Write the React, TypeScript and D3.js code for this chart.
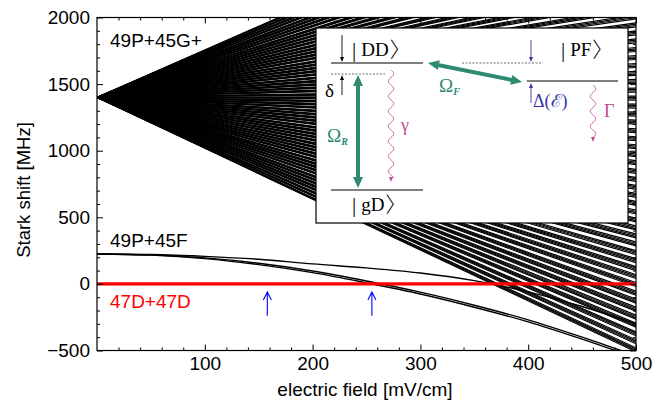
import React, { useRef, useEffect } from "react";
import * as d3 from "d3";

const W = 672;
const H = 403;

// axes
const fieldDomain = [0, 500];
const shiftDomain = [-500, 2000];
const fieldTicks = [100, 200, 300, 400, 500];
const shiftTicks = [-500, 0, 500, 1000, 1500, 2000];

// 49P+45G+ manifold: every band starts at 1400 MHz, value read at 500 mV/cm
const fanField = [0, 500];
const fanOrigin = 1400;
const fanEndShift = [
  -480, -420, -360, -295, -235, -175, -115, -55, 10, 70, 130, 190, 250, 315, 375,
  435, 495, 555, 620, 680, 740, 800, 860, 925, 985, 1045, 1105, 1165, 1230, 1290,
  1350, 1410, 1470, 1535, 1595, 1655, 1715, 1775, 1840, 1900, 1960, 2020, 2080,
  2145, 2205, 2265, 2325, 2385, 2450, 2510, 2570, 2630, 2690, 2755, 2815, 2875,
  2935, 3000, 3060, 3120, 3180,
];
// each band is a small bundle of near-degenerate lines (offset at 500 mV/cm)
const bandSplit = [0, -10, -20, -30];

// 49P+45F lines
const pfField = [0, 50, 100, 150, 200, 250, 300, 350, 400, 450, 500];
const pfUpper = [225, 221, 207, 185, 150, 120, 82, 25, -60, -170, -300];
const pfLowerA = [225, 218, 195, 155, 97, 22, -62, -160, -270, -400, -540];
const pfLowerB = [225, 216, 190, 145, 85, 8, -76, -175, -285, -415, -555];

// 47D+47D reference level and resonance markers
const ddShift = 0;
const arrowFields = [158, 255];
const arrowShift = [-240, -60];

const SANS = "'Liberation Sans', Arial, Helvetica, sans-serif";
const SERIF = "'Liberation Serif', 'DejaVu Serif', 'Times New Roman', serif";
const GREEN = "#2f8a72";
const PINK = "#bf4a92";
const INDIGO = "#3535a8";

function App() {
  const svgRef = useRef(null);

  useEffect(() => {
    const svg = d3.select(svgRef.current);
    svg.selectAll("*").remove();

    const x = d3.scaleLinear().domain(fieldDomain).range([97, 636]);
    const y = d3.scaleLinear().domain(shiftDomain).range([350.5, 17.5]);

    svg
      .append("defs")
      .append("clipPath")
      .attr("id", "plotArea")
      .append("rect")
      .attr("x", x(0))
      .attr("y", y(2000))
      .attr("width", x(500) - x(0))
      .attr("height", y(-500) - y(2000));

    const plot = svg.append("g").attr("clip-path", "url(#plotArea)");
    const line = d3
      .line<[number, number]>()
      .x((d) => x(d[0]))
      .y((d) => y(d[1]));

    // manifold fan
    const fanLines: [number, number][][] = [];
    fanEndShift.forEach((v) =>
      bandSplit.forEach((s) =>
        fanLines.push([
          [fanField[0], fanOrigin],
          [fanField[1], v + s],
        ])
      )
    );
    plot
      .selectAll(".fan")
      .data(fanLines)
      .join("path")
      .attr("class", "fan")
      .attr("d", (d) => line(d))
      .attr("fill", "none")
      .attr("stroke", "#000")
      .attr("stroke-width", 1.15);

    // 49P+45F
    [pfUpper, pfLowerA, pfLowerB].forEach((series) => {
      plot
        .append("path")
        .attr("d", line.curve(d3.curveMonotoneX)(pfField.map((f, i) => [f, series[i]])))
        .attr("fill", "none")
        .attr("stroke", "#000")
        .attr("stroke-width", 1.4);
    });
    line.curve(d3.curveLinear);

    // 47D+47D
    plot
      .append("line")
      .attr("x1", x(0))
      .attr("x2", x(500))
      .attr("y1", y(ddShift))
      .attr("y2", y(ddShift))
      .attr("stroke", "#ff0000")
      .attr("stroke-width", 3.4);

    // blue resonance arrows
    arrowFields.forEach((f) => {
      const ax = x(f);
      const y0 = y(arrowShift[0]);
      const y1 = y(arrowShift[1]);
      svg
        .append("path")
        .attr("d", `M${ax},${y0}L${ax},${y1}M${ax - 4},${y1 + 8}L${ax},${y1}L${ax + 4},${y1 + 8}`)
        .attr("fill", "none")
        .attr("stroke", "#0000ff")
        .attr("stroke-width", 1.1);
    });

    // axes with inward ticks on all four sides
    const minorField = d3.range(20, 500, 20).filter((v) => v % 100 !== 0);
    const minorShift = d3.range(-400, 2000, 100).filter((v) => v % 500 !== 0);
    const styleAxis = (g) => {
      g.select(".domain").remove();
      g.attr("font-family", SANS).attr("font-size", 19);
      g.selectAll("line").attr("stroke", "#000").attr("stroke-width", 1);
    };

    svg
      .append("g")
      .attr("transform", `translate(0,${y(-500)})`)
      .call(d3.axisBottom(x).tickValues(fieldTicks).tickSize(-6).tickPadding(6))
      .call(styleAxis);
    svg
      .append("g")
      .attr("transform", `translate(0,${y(-500)})`)
      .call(d3.axisBottom(x).tickValues(minorField).tickSize(-3).tickFormat(() => ""))
      .call(styleAxis);
    svg
      .append("g")
      .attr("transform", `translate(0,${y(2000)})`)
      .call(d3.axisTop(x).tickValues(fieldTicks).tickSize(-6).tickFormat(() => ""))
      .call(styleAxis);
    svg
      .append("g")
      .attr("transform", `translate(0,${y(2000)})`)
      .call(d3.axisTop(x).tickValues(minorField).tickSize(-3).tickFormat(() => ""))
      .call(styleAxis);
    svg
      .append("g")
      .attr("transform", `translate(${x(0)},0)`)
      .call(d3.axisLeft(y).tickValues(shiftTicks).tickSize(-6).tickPadding(7).tickFormat(d3.format("d")))
      .call(styleAxis);
    svg
      .append("g")
      .attr("transform", `translate(${x(0)},0)`)
      .call(d3.axisLeft(y).tickValues(minorShift).tickSize(-3).tickFormat(() => ""))
      .call(styleAxis);
    svg
      .append("g")
      .attr("transform", `translate(${x(500)},0)`)
      .call(d3.axisRight(y).tickValues(shiftTicks).tickSize(-6).tickFormat(() => ""))
      .call(styleAxis);
    svg
      .append("g")
      .attr("transform", `translate(${x(500)},0)`)
      .call(d3.axisRight(y).tickValues(minorShift).tickSize(-3).tickFormat(() => ""))
      .call(styleAxis);

    svg
      .append("rect")
      .attr("x", x(0))
      .attr("y", y(2000))
      .attr("width", x(500) - x(0))
      .attr("height", y(-500) - y(2000))
      .attr("fill", "none")
      .attr("stroke", "#000")
      .attr("stroke-width", 1.2);

    // axis titles
    svg
      .append("text")
      .attr("x", 365)
      .attr("y", 396)
      .attr("text-anchor", "middle")
      .attr("font-family", SANS)
      .attr("font-size", 19)
      .text("electric field [mV/cm]");
    svg
      .append("text")
      .attr("transform", "translate(30,190) rotate(-90)")
      .attr("text-anchor", "middle")
      .attr("font-family", SANS)
      .attr("font-size", 18.5)
      .text("Stark shift [MHz]");

    // state labels
    const label = (tx, ty, txt, color) =>
      svg
        .append("text")
        .attr("x", tx)
        .attr("y", ty)
        .attr("font-family", SANS)
        .attr("font-size", 19)
        .attr("fill", color)
        .text(txt);
    label(110, 47, "49P+45G+", "#000");
    label(110, 247, "49P+45F", "#000");
    label(110, 308, "47D+47D", "#ff0000");

    // ---- inset level scheme ----
    const inset = svg.append("g");
    inset
      .append("rect")
      .attr("x", 316)
      .attr("y", 28)
      .attr("width", 312)
      .attr("height", 195)
      .attr("fill", "#fff")
      .attr("stroke", "#000")
      .attr("stroke-width", 1.2);

    const seg = (x1, y1, x2, y2, color, w, dash?) =>
      inset
        .append("line")
        .attr("x1", x1)
        .attr("y1", y1)
        .attr("x2", x2)
        .attr("y2", y2)
        .attr("stroke", color)
        .attr("stroke-width", w)
        .attr("stroke-dasharray", dash || null);

    seg(331, 63, 423, 63, "#000", 1.2);
    seg(331, 190, 423, 190, "#000", 1.2);
    seg(527, 81, 618, 81, "#000", 1.2);
    seg(331, 74, 385, 74, "#444", 0.8, "2,1.5");
    seg(462, 63, 543, 63, "#444", 0.8, "2,1.5");

    const smallArrow = (ax, from, to, color) => {
      const dir = to > from ? 1 : -1;
      seg(ax, from, ax, to - dir * 3, color, 0.9);
      inset
        .append("path")
        .attr("d", `M${ax - 2},${to - dir * 5}L${ax},${to}L${ax + 2},${to - dir * 5}Z`)
        .attr("fill", color);
    };
    smallArrow(342, 35, 62, "#000");
    smallArrow(342, 95, 75, "#000");
    smallArrow(531, 40, 62, INDIGO);
    smallArrow(531, 103, 83, INDIGO);

    const doubleArrow = (x1, y1, x2, y2) => {
      const len = Math.hypot(x2 - x1, y2 - y1);
      const ux = (x2 - x1) / len;
      const uy = (y2 - y1) / len;
      const hl = 11;
      const hw = 5;
      seg(x1 + ux * hl * 0.8, y1 + uy * hl * 0.8, x2 - ux * hl * 0.8, y2 - uy * hl * 0.8, GREEN, 4);
      const head = (tx, ty, sx, sy) => {
        const bx = tx + sx * hl;
        const by = ty + sy * hl;
        inset
          .append("path")
          .attr("d", `M${tx},${ty}L${bx - sy * hw},${by + sx * hw}L${bx + sy * hw},${by - sx * hw}Z`)
          .attr("fill", GREEN);
      };
      head(x1, y1, ux, uy);
      head(x2, y2, -ux, -uy);
    };
    doubleArrow(358, 75, 358, 188);
    doubleArrow(428, 63, 522, 82);

    const wavy = (wx, y1, y2) => {
      const pts: [number, number][] = [];
      for (let t = y1; t <= y2 - 4; t += 0.5) pts.push([wx + 2.7 * Math.sin(((t - y1) / 15) * 2 * Math.PI), t]);
      inset
        .append("path")
        .attr("d", d3.line()(pts))
        .attr("fill", "none")
        .attr("stroke", PINK)
        .attr("stroke-width", 0.9);
      inset
        .append("path")
        .attr("d", `M${wx - 2},${y2 - 5}L${wx},${y2}L${wx + 2},${y2 - 5}Z`)
        .attr("fill", PINK);
    };
    wavy(391, 70, 182);
    wavy(593, 85, 142);

    // ket labels: bar, state name, tall thin closing bracket
    const ket = (tx, ty, name) => {
      const t = inset
        .append("text")
        .attr("x", tx)
        .attr("y", ty)
        .attr("font-family", SERIF)
        .attr("font-size", 19)
        .attr("fill", "#000");
      t.append("tspan").attr("font-size", 21).attr("dy", 1).text("|");
      t.append("tspan").attr("dx", 5).attr("dy", -1).text(name);
      t.append("tspan")
        .attr("dx", 1)
        .attr("dy", 1)
        .attr("font-size", 21)
        .attr("font-family", "'Noto Sans CJK JP', 'Noto Sans CJK SC', sans-serif")
        .attr("font-weight", 300)
        .text("\u3009");
    };
    ket(352, 56, "DD");
    ket(352, 211, "gD");
    ket(561, 56, "PF");

    const sym = (tx, ty, txt, color, size = 17, sub?) => {
      const t = inset
        .append("text")
        .attr("x", tx)
        .attr("y", ty)
        .attr("font-family", SERIF)
        .attr("font-size", size)
        .attr("fill", color)
        .text(txt);
      if (sub)
        t.append("tspan")
          .attr("dy", 3)
          .attr("font-size", 10)
          .attr("font-style", "italic")
          .attr("font-weight", "bold")
          .text(sub);
    };
    sym(325, 97, "δ", "#000", 19);
    sym(327, 142, "Ω", GREEN, 19, "R");
    sym(439, 92, "Ω", GREEN, 19, "F");
    sym(401, 131, "γ", PINK, 18);
    sym(604, 117, "Γ", PINK, 18);
    sym(533, 107, "Δ(ℰ)", INDIGO, 18);
  }, []);

  return (
    <svg
      ref={svgRef}
      width={W}
      height={H}
      style={{ position: "absolute", left: 0, top: 0, background: "#fff" }}
    ></svg>
  );
}

export default App;
